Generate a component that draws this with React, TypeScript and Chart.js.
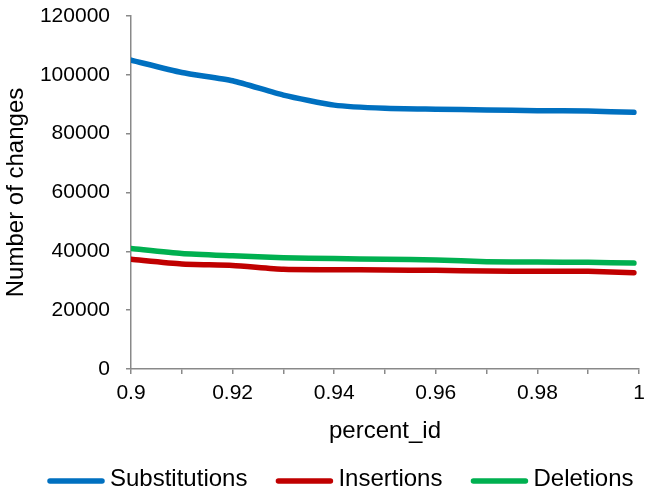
import React, { useEffect, useRef } from "react";
import { Chart, registerables } from "chart.js";

Chart.register(...registerables);

const percentIds = [0.9, 0.91, 0.92, 0.93, 0.94, 0.95, 0.96, 0.97, 0.98, 0.99, 0.999];
const substitutions = [105000, 100800, 98000, 93100, 89700, 88600, 88300, 88050, 87800, 87700, 87250];
const insertions = [37300, 35700, 35200, 33900, 33750, 33650, 33550, 33300, 33200, 33200, 32750];
const deletions = [41000, 39300, 38500, 37800, 37550, 37300, 37050, 36500, 36350, 36250, 36000];
const seriesNames = ["Substitutions", "Insertions", "Deletions"];
const seriesColors = ["#0070C0", "#C00000", "#00B050"];
const yTicks = [0, 20000, 40000, 60000, 80000, 100000, 120000];

const FONT = "'Liberation Sans', Arial, sans-serif";
const AXIS_COLOR = "#898989";

const legendPlugin = {
  id: "customLegend",
  afterDraw(chart: any) {
    const ctx = chart.ctx as CanvasRenderingContext2D;
    const startX = 47;
    const y = 481;
    const boxW = 58;
    const gap = 5;
    const itemGap = 28;
    ctx.save();
    ctx.font = `24px ${FONT}`;
    ctx.textBaseline = "middle";
    ctx.textAlign = "left";
    let x = startX;
    chart.data.datasets.forEach((ds: any) => {
      ctx.strokeStyle = ds.borderColor;
      ctx.lineWidth = 5.5;
      ctx.lineCap = "round";
      ctx.beginPath();
      ctx.moveTo(x + 3, y);
      ctx.lineTo(x + boxW - 3, y);
      ctx.stroke();
      x += boxW + gap;
      ctx.fillStyle = "#000";
      ctx.fillText(ds.label, x, y - 2);
      x += ctx.measureText(ds.label).width + itemGap;
    });
    ctx.restore();
  },
};

export default function App() {
  const ref = useRef<HTMLCanvasElement | null>(null);

  useEffect(() => {
    document.body.style.margin = "0";
    const canvas = ref.current;
    if (!canvas) return;
    const toPts = (ys: number[]) => ys.map((y, i) => ({ x: percentIds[i], y }));
    const values = [substitutions, insertions, deletions];
    const chart = new Chart(canvas, {
      type: "line",
      data: {
        datasets: values.map((vals, i) => ({
          label: seriesNames[i],
          data: toPts(vals),
          borderColor: seriesColors[i],
          backgroundColor: seriesColors[i],
        })),
      },
      options: {
        animation: false,
        responsive: false,
        maintainAspectRatio: false,
        layout: { padding: { top: 16, right: 9, left: 0, bottom: 0 } },
        elements: {
          line: { borderWidth: 5.5, tension: 0.2, borderCapStyle: "round", borderJoinStyle: "round", fill: false },
          point: { radius: 0 },
        },
        plugins: {
          legend: { display: false },
          tooltip: { enabled: false },
        },
        scales: {
          x: {
            type: "linear",
            min: 0.9,
            max: 1,
            afterFit: (scale: any) => {
              scale.height = 127;
              scale.paddingLeft = 0;
              scale.paddingRight = 0;
            },
            ticks: {
              stepSize: 0.01,
              autoSkip: false,
              maxRotation: 0,
              color: "#000",
              font: { family: FONT, size: 21 },
              padding: 7,
              callback: (v: any) => {
                const n = Math.round(Number(v) * 100);
                return n % 2 === 0 ? String(n / 100) : "";
              },
            },
            grid: { display: true, drawOnChartArea: false, drawTicks: true, tickLength: 5, color: AXIS_COLOR, lineWidth: 1.5 },
            border: { display: true, color: AXIS_COLOR, width: 1.5 },
            title: { display: true, text: "percent_id", color: "#000", font: { family: FONT, size: 24 }, padding: { top: 0, bottom: 50 } },
          },
          y: {
            type: "linear",
            min: yTicks[0],
            max: yTicks[yTicks.length - 1],
            afterFit: (scale: any) => {
              scale.width = 131;
              scale.paddingTop = 0;
              scale.paddingBottom = 0;
            },
            afterBuildTicks: (axis: any) => {
              axis.ticks = yTicks.map((v) => ({ value: v }));
            },
            ticks: {
              color: "#000",
              font: { family: FONT, size: 21 },
              padding: 16,
              callback: (v: any) => String(v),
            },
            grid: { display: true, drawOnChartArea: false, drawTicks: true, tickLength: 5, color: AXIS_COLOR, lineWidth: 1.5 },
            border: { display: true, color: AXIS_COLOR, width: 1.5 },
            title: { display: true, text: "Number of changes", color: "#000", font: { family: FONT, size: 24 }, padding: { top: 1.5, bottom: 0 } },
          },
        },
      },
      plugins: [legendPlugin],
    });
    return () => chart.destroy();
  }, []);

  return (
    <div style={{ width: 648, height: 496, background: "#fff" }}>
      <canvas ref={ref} width={648} height={496} style={{ display: "block" }} />
    </div>
  );
}
